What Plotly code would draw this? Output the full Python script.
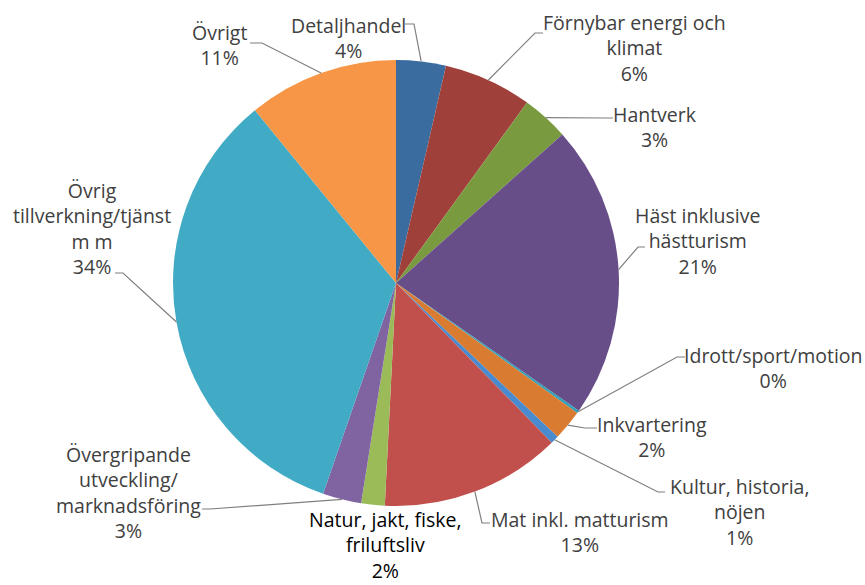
import math
import plotly.graph_objects as go

# ---------------- data ----------------
categories = [
    "Detaljhandel",
    "Förnybar energi och klimat",
    "Hantverk",
    "Häst inklusive hästturism",
    "Idrott/sport/motion",
    "Inkvartering",
    "Kultur, historia, nöjen",
    "Mat inkl. matturism",
    "Natur, jakt, fiske, friluftsliv",
    "Övergripande utveckling/marknadsföring",
    "Övrig tillverkning/tjänst m m",
    "Övrigt",
]
label_text = [
    "Detaljhandel",
    "Förnybar energi och<br>klimat",
    "Hantverk",
    "Häst inklusive<br>hästturism",
    "Idrott/sport/motion",
    "Inkvartering",
    "Kultur, historia,<br>nöjen",
    "Mat inkl. matturism",
    "Natur, jakt, fiske,<br>friluftsliv",
    "Övergripande<br>utveckling/<br>marknadsföring",
    "Övrig<br>tillverkning/tjänst<br>m m",
    "Övrigt",
]
values = [3.6, 6.4, 3.4, 21.3, 0.2, 2.2, 0.6, 13.1, 1.7, 2.8, 33.8, 10.9]

# ---------------- style ----------------
colors = ["#3A6C9F", "#A0403A", "#7A9A40", "#674E88", "#31A0B8", "#D97C32",
          "#4A8ACE", "#C1504D", "#9BBB59", "#8064A2", "#41AAC5", "#F79646"]

W, H = 865, 585
CX, CY, R = 396, 283, 223

# label block centre (px) and leader stub (start, end) in px; None = no leader
label_pos = [
    (348, 37.5), (634, 47.5), (655, 127), (697, 241), (773, 368), (652, 437),
    (739, 512), (580, 532), (385, 545), (128, 492), (92, 229), (219, 45.5),
]
stubs = [
    ((405, 24), (414, 24)),
    ((543, 33), (535, 33)),
    ((613, 118), (605, 118)),
    ((645, 247), (638, 247)),
    ((685, 357), (677, 357)),
    ((597, 428), (585, 428)),
    ((665, 492), (658, 492)),
    ((490, 523), (482, 523)),
    None,
    ((202, 509), (210, 509)),
    ((115, 273), (123, 273)),
    ((250, 43), (262, 43)),
]


def px(x):
    return x / W


def py(y):
    return 1 - y / H


fig = go.Figure(go.Pie(
    labels=categories,
    values=values,
    sort=False,
    direction="clockwise",
    rotation=0,
    marker=dict(colors=colors, line=dict(width=0)),
    textinfo="none",
    hoverinfo="label+percent",
    domain=dict(x=[px(CX - R), px(CX + R)], y=[py(CY + R), py(CY - R)]),
    showlegend=False,
))

total = sum(values)
cum = 0.0
annotations = []
shapes = []
for i, v in enumerate(values):
    mid = (cum + v / 2) / total
    cum += v
    th = mid * 2 * math.pi
    tx = CX + R * math.sin(th)
    ty = CY - R * math.cos(th)
    pct = round(v / total * 100)
    lx, ly = label_pos[i]
    is_natur = i == 8
    annotations.append(dict(
        x=px(lx), y=py(ly), xref="paper", yref="paper",
        xanchor="center", yanchor="middle", showarrow=False, align="center",
        text=f"{label_text[i]}<br>{pct}%",
        font=dict(family="Open Sans", size=19.5,
                  color="#000000" if is_natur else "#404040"),
    ))
    if stubs[i] is not None:
        (sx, sy), (ex, ey) = stubs[i]
        path = (f"M {px(sx)} {py(sy)} L {px(ex)} {py(ey)} "
                f"L {px(tx)} {py(ty)}")
        shapes.append(dict(type="path", xref="paper", yref="paper", path=path,
                           line=dict(color="#7F7F7F", width=1.2)))

fig.update_layout(
    width=W, height=H,
    margin=dict(l=0, r=0, t=0, b=0, pad=0),
    paper_bgcolor="white", plot_bgcolor="white",
    annotations=annotations, shapes=shapes,
)

fig.write_html(
    "out.html",
    config={"displayModeBar": False},
    post_script="document.body.style.margin='0';document.body.style.overflow='hidden';",
)
